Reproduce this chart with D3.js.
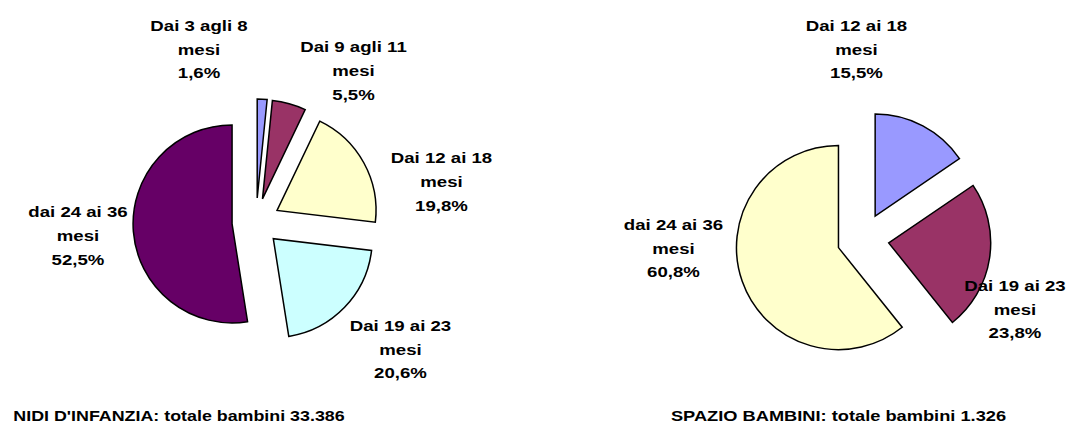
<!DOCTYPE html>
<html>
<head>
<meta charset="utf-8">
<script src="https://cdn.jsdelivr.net/npm/d3@7"></script>
<style>
  html, body { margin: 0; padding: 0; background: #ffffff; }
  svg { display: block; }
  text { font-family: "Liberation Sans", Arial, sans-serif; font-weight: bold; fill: #000; }
</style>
</head>
<body>
<svg id="chart" width="1066" height="424"></svg>
<script>
// ---- data ----
const nidiCategories = ["Dai 3 agli 8 mesi", "Dai 9 agli 11 mesi", "Dai 12 ai 18 mesi", "Dai 19 ai 23 mesi", "dai 24 ai 36 mesi"];
const nidiValues = [1.6, 5.5, 19.8, 20.6, 52.5];
const nidiColors = ["#9999FF", "#993366", "#FFFFCC", "#CCFFFF", "#660066"];
const nidiTitle = "NIDI D'INFANZIA: totale bambini 33.386";

const spazioCategories = ["Dai 12 ai 18 mesi", "Dai 19 ai 23 mesi", "dai 24 ai 36 mesi"];
const spazioValues = [15.5, 23.8, 60.8];
const spazioColors = ["#9999FF", "#993366", "#FFFFCC"];
const spazioTitle = "SPAZIO BAMBINI: totale bambini 1.326";

// ---- layout (label centers relative to pie centre) ----
const nidiLayout = {
  cx: 256, cy: 222, r: 99, explode: 24,
  labels: [[-57, -173], [97.5, -151.3], [185.5, -40.7], [144.5, 127], [-178, 13.7]],
  titleX: 179, titleY: 420.5, titleScale: 1.16
};
const spazioLayout = {
  cx: 863, cy: 239, r: 102, explode: 26,
  labels: [[-6.5, -190], [152, 70], [-189.5, 9]],
  titleX: 838.5, titleY: 420.5, titleScale: 1.185
};

const svg = d3.select("#chart");
const fmt = v => d3.format(".1f")(v).replace(".", ",") + "%";

function splitLabel(cat) {
  const words = cat.split(" ");
  const last = words.pop();
  return [words.join(" "), last];
}

function drawPie(categories, values, colors, title, L) {
  const g = svg.append("g").attr("transform", `translate(${L.cx},${L.cy})`);
  const pie = d3.pie().sort(null).value(d => d)(values);
  const arc = d3.arc().innerRadius(0).outerRadius(L.r);

  g.selectAll("path.slice")
    .data(pie)
    .join("path")
    .attr("class", "slice")
    .attr("transform", d => {
      const a = (d.startAngle + d.endAngle) / 2;
      return `translate(${L.explode * Math.sin(a)},${-L.explode * Math.cos(a)})`;
    })
    .attr("d", arc)
    .attr("fill", (d, i) => colors[i])
    .attr("stroke", "#000")
    .attr("stroke-width", 1.5)
    .attr("stroke-linejoin", "miter");

  const lab = g.selectAll("g.lab")
    .data(pie)
    .join("g")
    .attr("class", "lab")
    .attr("transform", (d, i) => `translate(${L.labels[i][0]},${L.labels[i][1]}) scale(1.21,1)`);

  lab.each(function (d, i) {
    const lines = splitLabel(categories[i]).concat([fmt(values[i])]);
    d3.select(this).selectAll("text")
      .data(lines)
      .join("text")
      .attr("text-anchor", "middle")
      .attr("y", (t, k) => (k - 1) * 24 + 5.5)
      .attr("font-size", "15.4px")
      .text(t => t);
  });

  svg.append("text")
    .attr("transform", `translate(${L.titleX},${L.titleY}) scale(${L.titleScale},1)`)
    .attr("text-anchor", "middle")
    .attr("font-size", "15.4px")
    .text(title);
}

drawPie(nidiCategories, nidiValues, nidiColors, nidiTitle, nidiLayout);
drawPie(spazioCategories, spazioValues, spazioColors, spazioTitle, spazioLayout);
</script>
</body>
</html>
